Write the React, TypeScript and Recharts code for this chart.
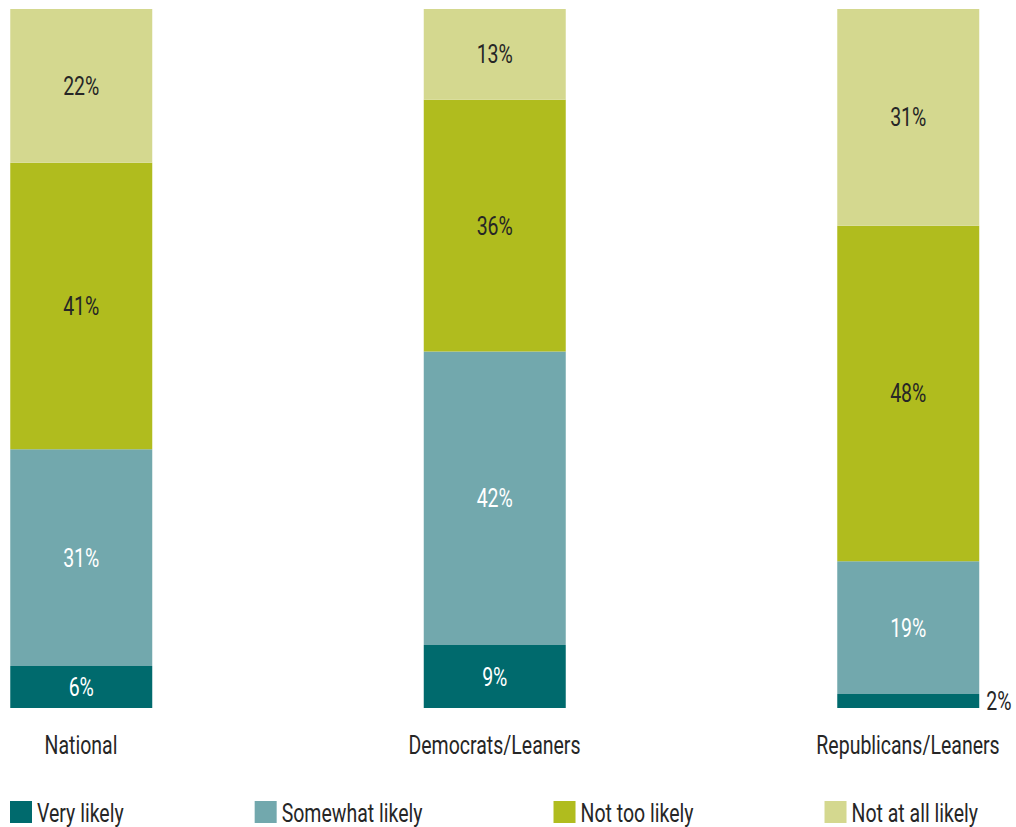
import { BarChart, Bar, XAxis, YAxis, LabelList } from 'recharts';

// survey groups and shares (%)
const groups = ['National', 'Democrats/Leaners', 'Republicans/Leaners'];
const veryLikely = [6, 9, 2];
const somewhatLikely = [31, 42, 19];
const notTooLikely = [41, 36, 48];
const notAtAllLikely = [22, 13, 31];

const FONT = 'Roboto, sans-serif';
const DARK = '#262626';
const SX = 0.78; // horizontal squeeze to mimic the condensed face

const series = [
  { key: 'very', name: 'Very likely', color: '#006a6d', text: '#ffffff' },
  { key: 'somewhat', name: 'Somewhat likely', color: '#72a8ad', text: '#ffffff' },
  { key: 'notToo', name: 'Not too likely', color: '#b0bc1e', text: DARK },
  { key: 'notAtAll', name: 'Not at all likely', color: '#d4d88f', text: DARK },
];

const data = groups.map((g, i) => ({
  pos: i,
  group: g,
  very: veryLikely[i],
  somewhat: somewhatLikely[i],
  notToo: notTooLikely[i],
  notAtAll: notAtAllLikely[i],
}));

function Squeezed({ x, y, anchor = 'middle', fill = DARK, size = 25, children }: any) {
  return (
    <text
      transform={`translate(${x},${y}) scale(${SX},1)`}
      x={0}
      y={0}
      textAnchor={anchor}
      fill={fill}
      fontFamily={FONT}
      fontSize={size}
    >
      {children}
    </text>
  );
}

const makeLabel = (fill: string) => (props: any) => {
  const { x, y, width, height, value } = props;
  if (value == null) return null;
  const small = value < 5;
  return (
    <Squeezed
      x={small ? x + width + 7 : x + width / 2}
      y={y + height / 2 + 9}
      anchor={small ? 'start' : 'middle'}
      fill={small ? DARK : fill}
    >
      {value}%
    </Squeezed>
  );
};

const GroupTick = (props: any) => {
  const { x, y, payload } = props;
  return <Squeezed x={x} y={y + 46}>{groups[payload.value]}</Squeezed>;
};

let ctx: CanvasRenderingContext2D | null = null;
function measure(t: string) {
  if (!ctx) ctx = document.createElement('canvas').getContext('2d');
  if (!ctx) return t.length * 12;
  ctx.font = `25px ${FONT}`;
  return ctx.measureText(t).width * SX;
}

function LegendRow({ width }: { width: number }) {
  const widths = series.map(s => 22 + 5 + measure(s.name));
  const gap = (width - widths.reduce((a, b) => a + b, 0)) / (series.length - 1);
  let cx = 0;
  return (
    <svg width={width} height={26} style={{ display: 'block', overflow: 'visible' }}>
      {series.map((s, i) => {
        const x0 = cx;
        cx += widths[i] + gap;
        return (
          <g key={s.key}>
            <rect x={x0} y={0} width={22} height={22} fill={s.color} />
            <Squeezed x={x0 + 27} y={21} anchor="start">{s.name}</Squeezed>
          </g>
        );
      })}
    </svg>
  );
}

export default function App() {
  return (
    <div style={{ position: 'relative', width: 1016, height: 827 }}>
      <style>{'html,body{margin:0;padding:0;overflow:hidden;background:#fff}'}</style>
      <BarChart
        width={1016}
        height={788}
        data={data}
        margin={{ top: 9, right: 108, left: 81, bottom: 0 }}
      >
        <XAxis
          type="number"
          dataKey="pos"
          domain={[0, 2]}
          ticks={[0, 1, 2]}
          axisLine={false}
          tickLine={false}
          tickSize={0}
          tickMargin={0}
          height={80}
          tick={<GroupTick />}
          interval={0}
        />
        <YAxis hide domain={[0, 100]} />
        {series.map(s => (
          <Bar
            key={s.key}
            dataKey={s.key}
            name={s.name}
            stackId="a"
            fill={s.color}
            barSize={142}
            isAnimationActive={false}
          >
            <LabelList dataKey={s.key} content={makeLabel(s.text)} />
          </Bar>
        ))}
      </BarChart>
      <div style={{ position: 'absolute', top: 801, left: 10 }}>
        <LegendRow width={968} />
      </div>
    </div>
  );
}
